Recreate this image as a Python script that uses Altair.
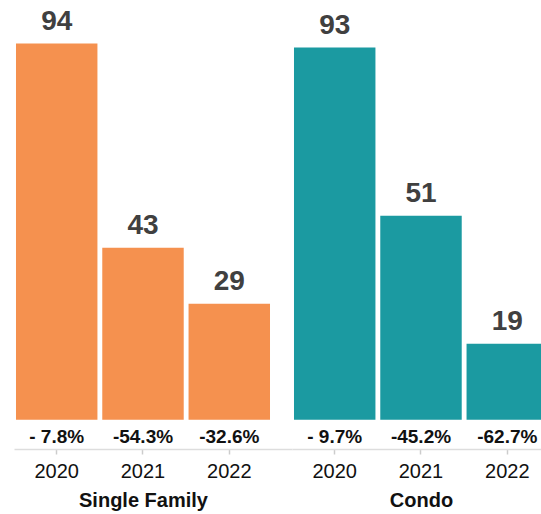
import altair as alt
import pandas as pd

categories = ["Single Family", "Condo"]
years = ["2020", "2021", "2022"]
single_family = [94, 43, 29]
condo = [93, 51, 19]
single_family_pct = ["- 7.8%", "-54.3%", "-32.6%"]
condo_pct = ["- 9.7%", "-45.2%", "-62.7%"]
colors = ["#F5914F", "#1B9AA1"]

rows = []
for cat, vals, pcts in [("Single Family", single_family, single_family_pct),
                        ("Condo", condo, condo_pct)]:
    for y, v, p in zip(years, vals, pcts):
        rows.append({"category": cat, "year": y, "value": v, "pct": p})
df = pd.DataFrame(rows)

FONT = "Liberation Sans"


def panel(cat):
    base = alt.Chart(df).transform_filter(alt.datum.category == cat)
    x = alt.X(
        "year:N",
        sort=years,
        scale=alt.Scale(paddingInner=0.056, paddingOuter=0.139, align=0.083),
        axis=alt.Axis(
            title=cat,
            titleX=129,
            titleY=57.5,
            titleBaseline="alphabetic",
            titleFontSize=20,
            titleFontWeight="bold",
            titleFont=FONT,
            titleColor="#111111",
            labelFont=FONT,
            labelFontSize=20,
            labelColor="#111111",
            labelAngle=0,
            labelBaseline="alphabetic",
            labelPadding=23,
            domainColor="#dddddd",
            domainWidth=1.5,
            tickColor="#cccccc",
            tickWidth=1.5,
            tickSize=5,
        ),
    )
    y = alt.Y("value:Q", scale=alt.Scale(domain=[-7.3, 104.9], nice=False, zero=False), axis=None)
    color = alt.Color("category:N", scale=alt.Scale(domain=categories, range=colors), legend=None)
    bars = base.mark_bar().encode(x=x, y=y, y2=alt.datum(0), color=color)
    vals = base.mark_text(
        dy=-14, baseline="alphabetic", fontSize=28, fontWeight="bold", font=FONT, color="#404040"
    ).encode(x=x, y=y, text="value:Q")
    pct = base.mark_text(
        baseline="alphabetic", fontSize=19, fontWeight="bold", font=FONT, color="#111111"
    ).encode(x=x, y=alt.value(442.5), text="pct:N")
    return alt.layer(bars, vals, pct).properties(width=278, height=449)


chart = (
    alt.hconcat(panel("Single Family"), panel("Condo"), spacing=0)
    .properties(padding={"left": 14, "top": 0, "right": -29, "bottom": 2})
    .configure_view(strokeWidth=0)
)

chart.save("out.html", embed_options={"renderer": "svg", "actions": False})
